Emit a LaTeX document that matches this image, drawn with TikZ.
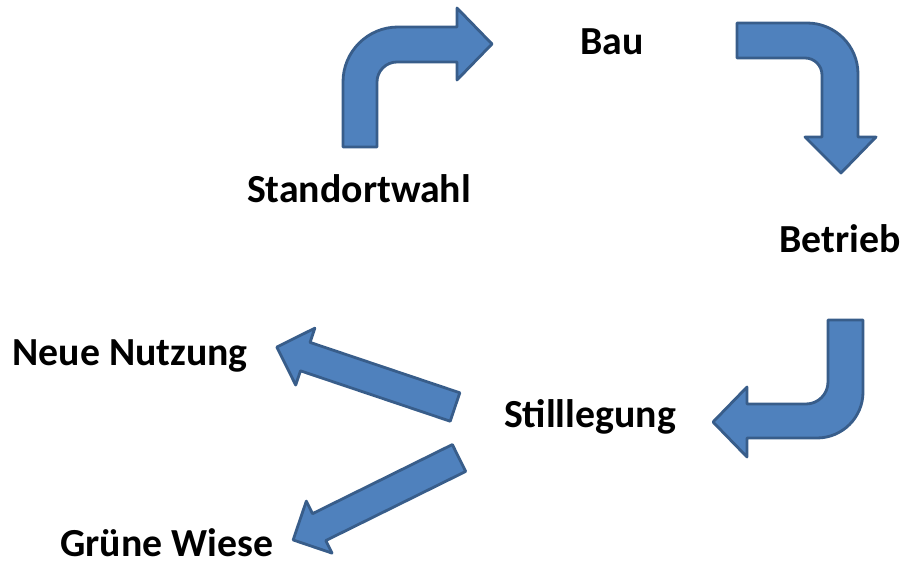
\documentclass[tikz,border=0pt]{standalone}
\usepackage{fontspec}
\setmainfont{Carlito}
\usepackage{tikz}
\usetikzlibrary{calc}
\definecolor{pfeilfill}{HTML}{4F81BD}
\definecolor{pfeilrand}{HTML}{385D8A}
\tikzset{
  pfeil/.style={fill=pfeilfill, draw=pfeilrand, line width=2pt, line join=round},
  phase/.style={anchor=base, inner sep=0pt, font=\fontsize{28.3}{32}\selectfont\bfseries}
}

\begin{document}
\begin{tikzpicture}[x=0.025cm, y=-0.025cm]
\useasboundingbox (0,0) rectangle (901,564);
\node[phase] (standort) at (359,203) {Standortwahl};
\node[phase] (bau) at (612,55) {Bau};
\node[phase] (betrieb) at (840,252) {Betrieb};
\node[phase] (stilllegung) at (590,427) {Stilllegung};
\node[phase] (nutzung) at (130,365) {Neue Nutzung};
\node[phase] (wiese) at (167,556) {Grüne Wiese};

\draw[pfeil] (343,147) -- (343,82) arc[start angle=180, end angle=270, radius=55]
  -- (457,27) -- (457,8) -- (492,44) -- (457,80) -- (457,62)
  -- (397,62) arc[start angle=270, end angle=180, radius=20] -- (377,147) -- cycle;
\draw[pfeil] (737,23) -- (807,23) arc[start angle=270, end angle=360, radius=51]
  -- (858,137) -- (876,137) -- (841,173) -- (805,137) -- (822,137)
  -- (822,75) arc[start angle=0, end angle=-90, radius=17] -- (737,58) -- cycle;
\draw[pfeil] (828,320) -- (863,320) -- (863,392) arc[start angle=0, end angle=90, radius=46]
  -- (747,438) -- (747,457) -- (713,422) -- (747,387) -- (747,404)
  -- (806,404) arc[start angle=90, end angle=0, radius=22] -- cycle;
\draw[pfeil, shift={(455,407)}, rotate=161.4] (0,-15) -- (158,-15) -- (158,-30)
  -- (188,0) -- (158,30) -- (158,15) -- (0,15) -- cycle;
\draw[pfeil, shift={(459,458)}, rotate=206.3] (0,-15) -- (156,-15) -- (156,-29)
  -- (185,0) -- (156,29) -- (156,15) -- (0,15) -- cycle;
\end{tikzpicture}
\end{document}
